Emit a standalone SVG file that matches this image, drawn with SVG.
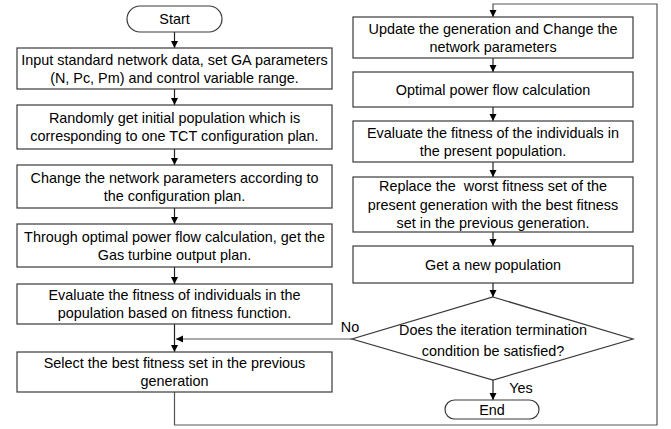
<svg xmlns="http://www.w3.org/2000/svg" width="671" height="429" viewBox="0 0 671 429">
<style>
.box{fill:#fff;stroke:#3a3a3a;stroke-width:1.2}
.t{font-family:"Liberation Sans",Arial,sans-serif;font-size:14.4px;fill:#000;text-anchor:middle;dominant-baseline:central}
.c{fill:none;stroke:#222;stroke-width:1.2}
.g{fill:none;stroke:#555;stroke-width:1.2}
</style>
<defs>
<marker id="ah" markerUnits="userSpaceOnUse" markerWidth="8" markerHeight="8" refX="7" refY="3.5" orient="auto">
<path d="M0,0 L7,3.5 L0,7 z" fill="#000"/>
</marker>
</defs>
<rect width="671" height="429" fill="#fff"/>
<g id="connectors">
<path class="c" d="M174.5,32 V48" marker-end="url(#ah)"/>
<path class="c" d="M174.5,89 V105" marker-end="url(#ah)"/>
<path class="c" d="M174.5,149 V165" marker-end="url(#ah)"/>
<path class="c" d="M174.5,208 V224" marker-end="url(#ah)"/>
<path class="c" d="M174.5,267 V284" marker-end="url(#ah)"/>
<path class="c" d="M174.5,324 V352" marker-end="url(#ah)"/>
<path class="g" d="M352,339 H176" marker-end="url(#ah)"/>
<path class="g" d="M174.5,392 V425 H657 V4 H493 V17" marker-end="url(#ah)"/>
<path class="c" d="M493,58 V72" marker-end="url(#ah)"/>
<path class="c" d="M493,107 V121" marker-end="url(#ah)"/>
<path class="c" d="M493,162 V177" marker-end="url(#ah)"/>
<path class="c" d="M493,232 V246" marker-end="url(#ah)"/>
<path class="c" d="M493,283 V297" marker-end="url(#ah)"/>
<path class="c" d="M493,380 V400" marker-end="url(#ah)"/>
</g>
<g id="start"><rect class="box" x="127" y="6" width="95" height="26" rx="13"/><text class="t" x="174.5" y="19">Start</text></g>
<g id="b1"><rect class="box" x="17" y="48" width="315" height="41"/><text class="t" x="174.5" y="59.5">Input standard network data, set GA parameters</text><text class="t" x="174.5" y="77.5">(N, Pc, Pm) and control variable range.</text></g>
<g id="b2"><rect class="box" x="17" y="105" width="315" height="44"/><text class="t" x="174.5" y="118">Randomly get initial population which is</text><text class="t" x="174.5" y="136">corresponding to one TCT configuration plan.</text></g>
<g id="b3"><rect class="box" x="17" y="165" width="315" height="43"/><text class="t" x="174.5" y="177.5">Change the network parameters according to</text><text class="t" x="174.5" y="195.5">the configuration plan.</text></g>
<g id="b4"><rect class="box" x="17" y="224" width="315" height="43"/><text class="t" x="174.5" y="236.5">Through optimal power flow calculation, get the</text><text class="t" x="174.5" y="254.5">Gas turbine output plan.</text></g>
<g id="b5"><rect class="box" x="17" y="284" width="315" height="40"/><text class="t" x="174.5" y="295">Evaluate the fitness of individuals in the</text><text class="t" x="174.5" y="313">population based on fitness function.</text></g>
<g id="b6"><rect class="box" x="17" y="352" width="315" height="40"/><text class="t" x="174.5" y="363">Select the best fitness set in the previous</text><text class="t" x="174.5" y="381">generation</text></g>
<g id="r1"><rect class="box" x="353" y="17" width="280" height="41"/><text class="t" x="493" y="29">Update the generation and Change the</text><text class="t" x="493" y="47">network parameters</text></g>
<g id="r2"><rect class="box" x="353" y="72" width="280" height="35"/><text class="t" x="493" y="89.5">Optimal power flow calculation</text></g>
<g id="r3"><rect class="box" x="353" y="121" width="280" height="41"/><text class="t" x="493" y="133">Evaluate the fitness of the individuals in</text><text class="t" x="493" y="151">the present population.</text></g>
<g id="r4"><rect class="box" x="353" y="177" width="280" height="55"/><text class="t" x="493" y="186" xml:space="preserve">Replace the  worst fitness set of the</text><text class="t" x="493" y="204.5">present generation with the best fitness</text><text class="t" x="493" y="223">set in the previous generation.</text></g>
<g id="r5"><rect class="box" x="353" y="246" width="280" height="37"/><text class="t" x="493" y="264.5">Get a new population</text></g>
<g id="decision"><path class="box" d="M493,297 L633,339 L493,380 L352,339 z"/><text class="t" x="493" y="330">Does the iteration termination</text><text class="t" x="493" y="351">condition be satisfied?</text></g>
<g id="end"><rect class="box" x="445" y="400" width="94" height="19" rx="9.5"/><text class="t" x="492" y="410">End</text></g>
<g id="labels"><text class="t" x="350" y="327">No</text><text class="t" x="521" y="388">Yes</text></g>
</svg>
